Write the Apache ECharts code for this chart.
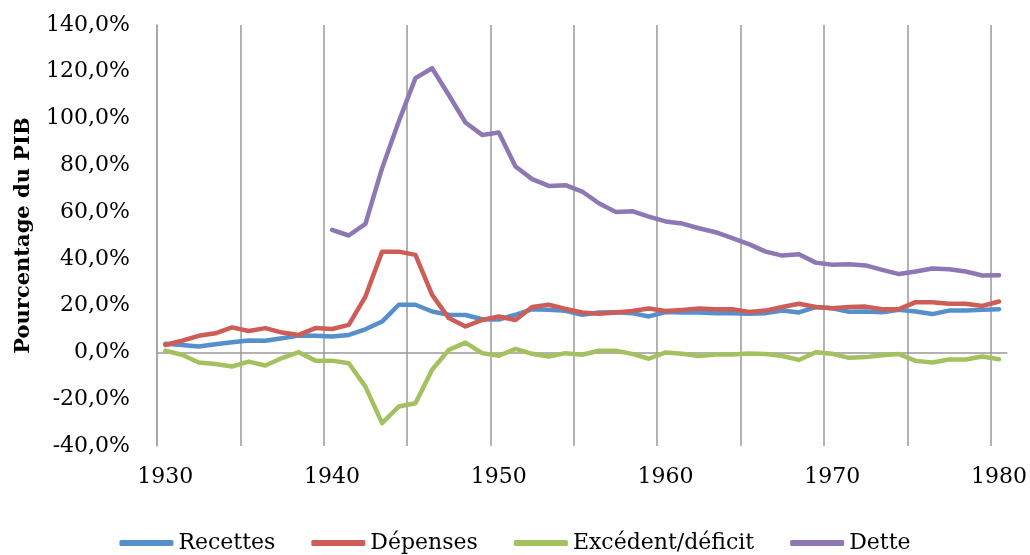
<!DOCTYPE html>
<html>
<head>
<meta charset="utf-8">
<title>Pourcentage du PIB</title>
<script src="https://cdn.jsdelivr.net/npm/echarts@6/dist/echarts.min.js"></script>
<style>
    html, body { margin: 0; padding: 0; background: #fff; }
    #main { width: 1030px; height: 555px; }
</style>
</head>
<body>
<div id="main"></div>
<script>
// 数据
var years = [];
for (var y = 1930; y <= 1980; y++) years.push(String(y));

var recettes = [3.7, 3.2, 2.5, 3.5, 4.4, 5.1, 5.0, 6.1, 7.2, 7.1,
    6.8, 7.5, 9.9, 13.2, 20.4, 20.4, 17.5, 16.1, 16.0, 14.2,
    14.1, 16.1, 18.5, 18.2, 17.8, 16.1, 17.1, 17.2, 16.8, 15.4,
    17.3, 17.1, 17.1, 16.8, 16.8, 16.5, 16.8, 17.9, 17.1, 19.4,
    18.9, 17.4, 17.5, 17.2, 18.2, 17.5, 16.4, 17.9, 17.9, 18.2, 18.5];

var depenses = [3.2, 5.0, 7.1, 8.2, 10.7, 9.2, 10.4, 8.5, 7.5, 10.4,
    10.0, 11.8, 23.9, 43.1, 43.1, 41.7, 24.6, 14.7, 11.1, 13.9,
    15.4, 13.9, 19.4, 20.4, 18.6, 17.1, 16.5, 17.1, 17.7, 18.8,
    17.7, 18.2, 18.8, 18.5, 18.5, 17.3, 17.9, 19.4, 20.8, 19.4,
    18.9, 19.4, 19.6, 18.5, 18.5, 21.5, 21.5, 20.8, 20.8, 19.9, 21.8];

var excedent = [0.7, -1.0, -4.3, -4.9, -6.0, -3.9, -5.6, -2.4, 0.1, -3.5,
    -3.5, -4.6, -14.6, -30.2, -23.1, -21.7, -7.4, 1.1, 4.2, -0.3,
    -1.4, 1.5, -0.6, -1.7, -0.3, -1.0, 0.7, 0.7, -0.6, -2.7,
    0.0, -0.6, -1.5, -0.9, -0.9, -0.5, -0.7, -1.5, -3.2, 0.1,
    -0.6, -2.3, -2.0, -1.2, -0.7, -3.6, -4.3, -3.0, -3.0, -1.7, -2.9];

var dette = [null, null, null, null, null, null, null, null, null, null,
    52.4, 50.0, 55.0, 78.8, 98.7, 117.3, 121.5, 110.1, 98.3, 93.0,
    94.0, 79.5, 74.1, 71.2, 71.5, 68.8, 63.8, 60.1, 60.4, 58.1,
    56.0, 55.1, 53.1, 51.4, 48.9, 46.3, 43.1, 41.4, 42.0, 38.4,
    37.5, 37.7, 37.2, 35.3, 33.5, 34.6, 35.9, 35.6, 34.6, 32.9, 33.0];

var seriesNames = ['Recettes', 'Dépenses', 'Excédent/déficit', 'Dette'];

(function() {
    //1.实例化对象
    var myChart = echarts.init(document.querySelector("#main"));
    var font = 'DejaVu Serif';

    function makeLine(name, data) {
        return {
            name: name,
            type: 'line',
            data: data,
            symbol: 'none',
            smooth: false,
            lineStyle: { width: 4.5, cap: 'round', join: 'round' }
        };
    }

    //2.指定配置项和数据
    var option = {
        animation: false,
        color: ['#5590CC', '#CD5D56', '#A3C25F', '#8E78B4'],
        grid: {
            left: 157,
            right: 21,
            top: 25,
            bottom: 109
        },
        legend: {
            data: seriesNames,
            left: 'center',
            top: 527,
            icon: 'roundRect',
            itemWidth: 54,
            itemHeight: 6,
            itemGap: 36,
            textStyle: { fontFamily: font, fontSize: 22, color: '#000' }
        },
        xAxis: {
            type: 'category',
            data: years,
            boundaryGap: true,
            axisLine: { show: false, onZero: false },
            axisTick: { show: false },
            axisLabel: {
                interval: 9,
                margin: 20,
                fontFamily: font,
                fontSize: 22,
                color: '#000'
            },
            // 每5年一条竖线
            splitLine: {
                show: true,
                interval: 4,
                showMaxLine: false,
                lineStyle: { color: '#999', width: 1.5 }
            }
        },
        yAxis: {
            type: 'value',
            min: -40,
            max: 140,
            interval: 20,
            name: 'Pourcentage du PIB',
            nameLocation: 'middle',
            nameGap: 123,
            nameTextStyle: { fontFamily: font, fontSize: 21, fontWeight: 'bold', color: '#000' },
            axisLine: { show: true, lineStyle: { color: '#A6A6A6', width: 1.5 } },
            axisTick: { show: false },
            axisLabel: {
                margin: 27,
                fontFamily: font,
                fontSize: 22,
                color: '#000',
                formatter: function(v) {
                    return v.toFixed(1).replace('.', ',') + '%';
                }
            },
            // 只显示 0 线
            splitLine: {
                show: true,
                lineStyle: {
                    width: 1.5,
                    color: ['transparent', 'transparent', '#999', 'transparent', 'transparent',
                        'transparent', 'transparent', 'transparent', 'transparent', 'transparent']
                }
            }
        },
        series: [
            makeLine(seriesNames[0], recettes),
            makeLine(seriesNames[1], depenses),
            makeLine(seriesNames[2], excedent),
            makeLine(seriesNames[3], dette)
        ]
    };
    //3.把配置项给实例对象
    myChart.setOption(option);
    window.addEventListener("resize", function() {
        myChart.resize();
    });
})();
</script>
</body>
</html>
